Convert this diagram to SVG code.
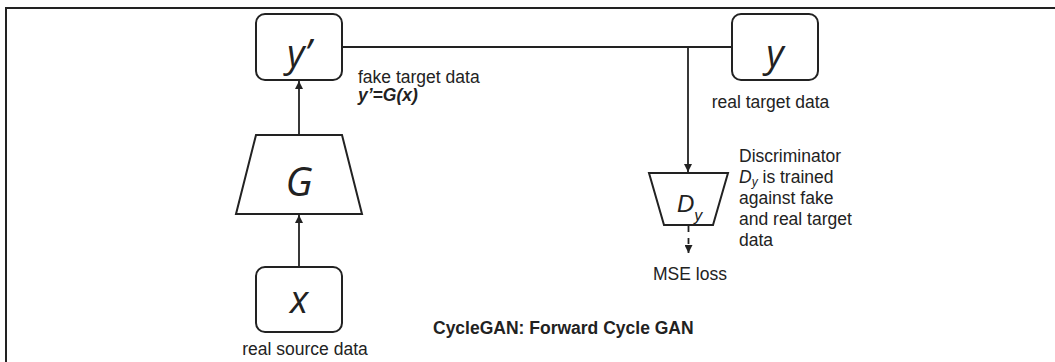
<svg xmlns="http://www.w3.org/2000/svg" width="1055" height="362" viewBox="0 0 1055 362">
<style>
.box{fill:#fff;stroke:#222;stroke-width:2}
.ln{fill:none;stroke:#222;stroke-width:1.8}
.lbl{font-family:"Liberation Sans",Arial,sans-serif;font-size:17.5px;fill:#222}
.big{font-family:"Open Sans","DejaVu Sans",sans-serif;font-style:italic;fill:#222}
</style>
<defs>
<marker id="ah" viewBox="0 0 10 10" refX="10" refY="5" markerWidth="9" markerHeight="8" markerUnits="userSpaceOnUse" orient="auto">
<path d="M0,0 L10,5 L0,10 z" fill="#222"/>
</marker>
</defs>
<rect width="1055" height="362" fill="#fff"/>
<path d="M6,362 V8 H1055" fill="none" stroke="#222" stroke-width="2"/>
<g id="connectors">
<path class="ln" d="M342,47 H732"/>
<path class="ln" d="M688,47 V172" marker-end="url(#ah)"/>
<path class="ln" d="M299,135 V81" marker-end="url(#ah)"/>
<path class="ln" d="M299,267 V215" marker-end="url(#ah)"/>
<path class="ln" d="M688.5,226 V253" stroke-dasharray="6 6" marker-end="url(#ah)"/>
</g>
<g id="node-yprime">
<rect class="box" x="256" y="14" width="86" height="66" rx="9"/>
<text class="big" x="299" y="67" font-size="38" text-anchor="middle">y’</text>
</g>
<g id="node-G">
<path class="box" d="M256,135 H342 L362,214 H236 Z"/>
<text class="big" x="299" y="196" font-size="40" text-anchor="middle">G</text>
</g>
<g id="node-x">
<rect class="box" x="256" y="267" width="86" height="65" rx="9"/>
<text class="big" x="299" y="313" font-size="38" text-anchor="middle">x</text>
<text class="lbl" x="305" y="355" text-anchor="middle">real source data</text>
</g>
<g id="node-y">
<rect class="box" x="732" y="14" width="86" height="66" rx="9"/>
<text class="big" x="775" y="67" font-size="38" text-anchor="middle">y</text>
<text class="lbl" x="770.5" y="108" text-anchor="middle">real target data</text>
</g>
<g id="node-Dy">
<path class="box" d="M649,173 H728 L713,225 H664 Z"/>
<text class="lbl" x="677" y="212" style="font-size:24px;font-style:italic">D<tspan style="font-size:16px" dy="9">y</tspan></text>
<text class="lbl" x="690" y="280" text-anchor="middle">MSE loss</text>
</g>
<g id="labels">
<text class="lbl" x="358" y="83">fake target data</text>
<text class="lbl" x="358" y="101" style="font-weight:bold;font-style:italic">y’=G(x)</text>
<text class="lbl" x="739" y="162">Discriminator</text>
<text class="lbl" x="739" y="183"><tspan style="font-style:italic">D</tspan><tspan style="font-size:12px;font-style:italic" dy="3">y</tspan><tspan dy="-3"> is trained</tspan></text>
<text class="lbl" x="739" y="204">against fake</text>
<text class="lbl" x="739" y="225">and real target</text>
<text class="lbl" x="739" y="246">data</text>
<text class="lbl" x="433" y="334" style="font-weight:bold">CycleGAN: Forward Cycle GAN</text>
</g>
</svg>
